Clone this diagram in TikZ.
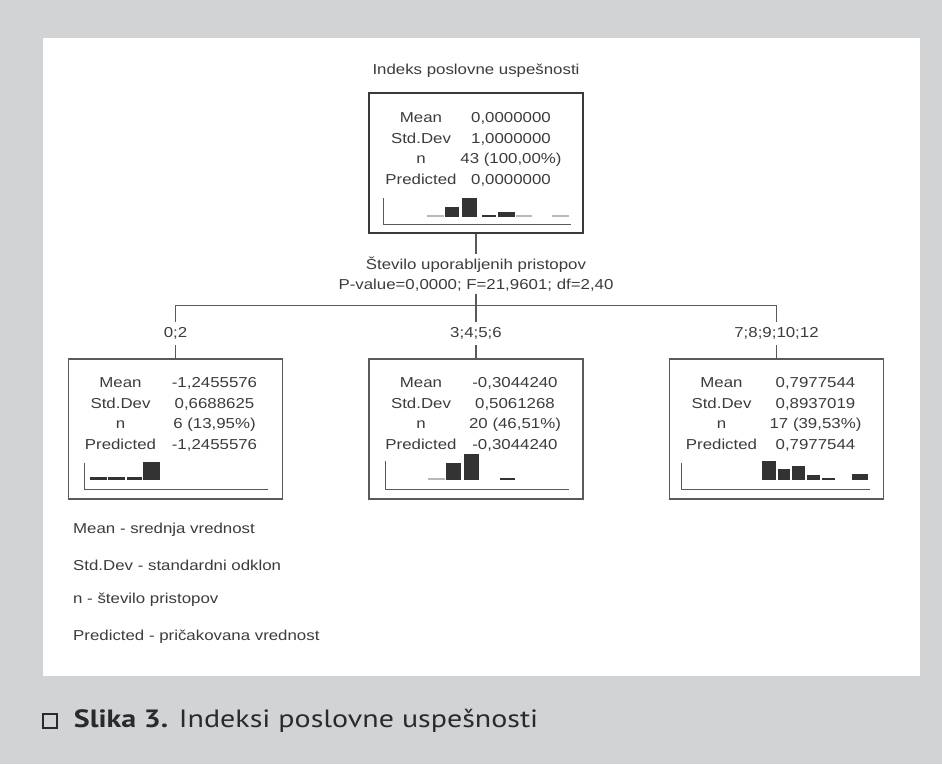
\documentclass[tikz,border=0pt]{standalone}
\usepackage{fontspec}
\newfontfamily\chartfont[FakeStretch=1.17]{Liberation Sans}
\newfontfamily\capfont[FakeStretch=1.2]{PT Sans}
\usetikzlibrary{positioning}

\definecolor{pagegray}{HTML}{D2D3D5}
\definecolor{txtgray}{HTML}{3C3C3C}
\definecolor{linegray}{HTML}{5A5A5A}
\definecolor{darkline}{HTML}{3A3A3A}
\definecolor{bargray}{HTML}{333333}
\definecolor{lightbar}{HTML}{B8B8B8}
\definecolor{captext}{HTML}{2A2A2A}

\begin{document}
\begin{tikzpicture}[
    x=1pt, y=-1pt,
    node distance=124pt and 85pt, % Vertical and horizontal spacing
    statbox/.style={draw=linegray, line width=1.5pt, rectangle, minimum width=214pt, minimum height=140pt, inner sep=0pt},
    rootbox/.style={statbox, draw=darkline, line width=2.8pt},
    txt/.style={font=\chartfont\fontsize{14.4}{20.5}\selectfont, text=txtgray, align=center, inner sep=2pt},
    col/.style={txt, inner sep=0pt, anchor=north},
    cat/.style={txt, outer sep=4pt},
    legendtxt/.style={txt, inner sep=0pt, anchor=west},
    hbar/.style={fill=bargray, draw=none},
    lbar/.style={fill=lightbar, draw=none},
    histaxis/.style={draw=linegray, line width=1pt},
    link/.style={draw=linegray, line width=1.2pt}
]

% Page and panel
\fill[pagegray] (0,0) rectangle (942,764);
\fill[white] (43,38) rectangle (920,676);
\useasboundingbox (0,0) rectangle (942,764);

%%%%% Root node
\node[rootbox] (root) at (476,163) {};
\node[txt, above=12pt of root] (title) {Indeks poslovne uspešnosti};
\node[col] (rootlbl) at ([xshift=-55pt, yshift=-21pt]root.north) {Mean\\Std.Dev\\n\\Predicted};
\node[col] (rootval) at ([xshift=35pt, yshift=-21pt]root.north) {0,0000000\\1,0000000\\43 (100,00\%)\\0,0000000};

% Split
\node[txt, below=20pt of root] (split) {Število uporabljenih pristopov\\P-value=0,0000; F=21,9601; df=2,40};
\coordinate[below=12pt of split] (fork);

%%%%% Child nodes
\node[statbox, below=of root]  (mid)  {};
\node[statbox, left=of mid]    (low)  {};
\node[statbox, right=of mid]   (high) {};

\node[cat, above=13pt of low]  (lowcat)  {0;2};
\node[cat, above=13pt of mid]  (midcat)  {3;4;5;6};
\node[cat, above=13pt of high] (highcat) {7;8;9;10;12};

\node[col] (lowlbl)  at ([xshift=-55pt, yshift=-19pt]low.north)  {Mean\\Std.Dev\\n\\Predicted};
\node[col] (lowval)  at ([xshift=39pt, yshift=-19pt]low.north)   {-1,2455576\\0,6688625\\6 (13,95\%)\\-1,2455576};
\node[col] (midlbl)  at ([xshift=-55pt, yshift=-19pt]mid.north)  {Mean\\Std.Dev\\n\\Predicted};
\node[col] (midval)  at ([xshift=39pt, yshift=-19pt]mid.north)   {-0,3044240\\0,5061268\\20 (46,51\%)\\-0,3044240};
\node[col] (highlbl) at ([xshift=-55pt, yshift=-19pt]high.north) {Mean\\Std.Dev\\n\\Predicted};
\node[col] (highval) at ([xshift=39pt, yshift=-19pt]high.north)  {0,7977544\\0,8937019\\17 (39,53\%)\\0,7977544};

%  Draw connectors between nodes
\draw[link] (root) -- (split);
\draw[link] (split) -- (fork);
\draw[link] (lowcat) |- (fork) -| (highcat);
\draw[link] (fork) -- (midcat);
\draw[link] (lowcat) -- (low);
\draw[link] (midcat) -- (mid);
\draw[link] (highcat) -- (high);

% Histograms
\begin{scope}[shift={(root.south west)}]
  \draw[histaxis] (16,-36) -- (16,-10) -- (203,-10);
  \fill[lbar] (59,-17) rectangle (76,-19);
  \fill[hbar] (77,-17) rectangle (91,-27);
  \fill[hbar] (94,-17) rectangle (109,-36);
  \fill[hbar] (114,-17) rectangle (128,-19.5);
  \fill[hbar] (130,-17) rectangle (147,-22);
  \fill[lbar] (148,-17) rectangle (164,-19);
  \fill[lbar] (184,-17) rectangle (201,-19);
\end{scope}

\begin{scope}[shift={(low.south west)}]
  \draw[histaxis] (17,-37) -- (17,-10) -- (200,-10);
  \fill[hbar] (22,-20) rectangle (39,-23);
  \fill[hbar] (40,-20) rectangle (57,-23);
  \fill[hbar] (59,-20) rectangle (74,-23);
  \fill[hbar] (75,-20) rectangle (92,-38);
\end{scope}

\begin{scope}[shift={(mid.south west)}]
  \draw[histaxis] (17,-39) -- (17,-10) -- (201,-10);
  \fill[lbar] (60,-20) rectangle (77,-22);
  \fill[hbar] (78,-20) rectangle (93,-37);
  \fill[hbar] (96,-20) rectangle (111,-46);
  \fill[hbar] (132,-20) rectangle (147,-22);
\end{scope}

\begin{scope}[shift={(high.south west)}]
  \draw[histaxis] (13,-37) -- (13,-10) -- (201,-10);
  \fill[hbar] (93,-20) rectangle (107,-39);
  \fill[hbar] (109,-20) rectangle (121,-31);
  \fill[hbar] (123,-20) rectangle (136,-34);
  \fill[hbar] (138,-20) rectangle (151,-25);
  \fill[hbar] (153,-20) rectangle (166,-22);
  \fill[hbar] (183,-20) rectangle (199,-26);
\end{scope}

% Legend
\node[legendtxt] (leg1) at (73,530) {Mean - srednja vrednost};
\node[legendtxt, below=35pt of leg1.west, anchor=west] (leg2) {Std.Dev - standardni odklon};
\node[legendtxt, below=35pt of leg2.west, anchor=west] (leg3) {n - število pristopov};
\node[legendtxt, below=37pt of leg3.west, anchor=west] (leg4) {Predicted - pričakovana vrednost};

% Caption
\node[draw=captext, line width=1.3pt, minimum size=14pt, inner sep=0pt] (capbox) at (50,721) {};
\node[anchor=west, font=\capfont\fontsize{25}{28}\selectfont, text=captext, inner sep=0pt, right=16pt of capbox] (caption) {\textbf{Slika 3.} Indeksi poslovne uspešnosti};

\end{tikzpicture}
\end{document}
